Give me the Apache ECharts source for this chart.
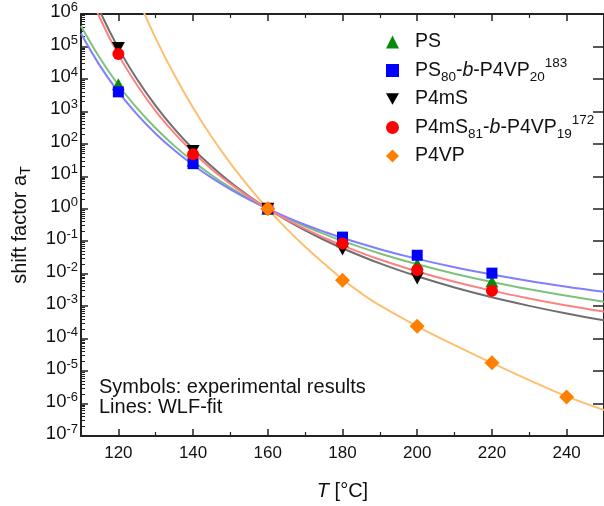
<!DOCTYPE html>
<html><head><meta charset="utf-8">
<script src="https://cdn.jsdelivr.net/npm/echarts@6/dist/echarts.min.js"></script>
<style>html,body{margin:0;padding:0;background:#fff}#c{width:604px;height:506px}</style>
</head><body><div id="c"></div>
<script>
// ---------- tick labels ----------
const xTicks = [120, 140, 160, 180, 200, 220, 240];
const xMinorTicks = [130, 150, 170, 190, 210, 230, 250];
const yTicks = [1e-7, 1e-6, 1e-5, 1e-4, 1e-3, 1e-2, 1e-1, 1e0, 1e1, 1e2, 1e3, 1e4, 1e5, 1e6];
const yMinorMult = [2, 3, 4, 5, 6, 7, 8, 9];

// ---------- series names ----------
const names = ['PS', 'PS80-b-P4VP20 183', 'P4mS', 'P4mS81-b-P4VP19 172', 'P4VP'];

// ---------- experimental shift factors ----------
const T_PS = [120, 140, 160, 180, 200, 220];
const aT_PS = [6.8e3, 30, 1, 0.10, 0.0200, 0.0057];
const T_PSb = [120, 140, 160, 180, 200, 220];
const aT_PSb = [4.0e3, 24.5, 1, 0.134, 0.037, 0.0104];
const T_P4mS = [120, 140, 160, 180, 200];
const aT_P4mS = [9.0e4, 60, 1, 0.056, 0.0071];
const T_P4mSb = [120, 140, 160, 180, 200, 220];
const aT_P4mSb = [5.9e4, 48, 1, 0.085, 0.0129, 0.0030];
const T_P4VP = [160, 180, 200, 220, 240];
const aT_P4VP = [1, 0.0063, 2.4e-4, 1.8e-5, 1.6e-6];

// ---------- WLF-fit curves ----------
const T_fit = [110, 115, 120, 125, 130, 135, 140, 145, 150, 155, 160, 165, 170, 175, 180, 190, 200, 210, 220, 230, 240, 250];
const fit_PS = [4.3e5, 4.5e4, 6.5e3, 1.26e3, 302, 86.6, 28.8, 10.8, 4.5, 2.04, 1, 0.522, 0.289, 0.168, 0.102, 0.0419, 0.0195, 0.010, 0.00556, 0.00331, 0.00208, 0.00137];
const fit_PSb = [2.5e5, 2.62e4, 3.98e3, 809, 206, 63.1, 22.4, 8.97, 3.98, 1.92, 1, 0.553, 0.323, 0.198, 0.126, 0.0568, 0.0286, 0.0158, 0.00944, 0.00597, 0.00398, 0.00277];
const fit_P4mS = [3.0e7, 1.26e6, 8.9e4, 9.8e3, 1.48e3, 288, 69, 20, 6.5, 2.43, 1, 0.448, 0.216, 0.111, 0.0607, 0.0207, 0.0083, 0.00375, 0.00187, 0.00102, 5.93e-4, 3.66e-4];
const fit_P4mSb = [1.86e7, 7.8e5, 5.6e4, 6.5e3, 1.02e3, 214, 55, 16.6, 5.85, 2.30, 1, 0.472, 0.239, 0.129, 0.0736, 0.0273, 0.01175, 0.00568, 0.00301, 0.00173, 0.00105, 6.8e-4];
const T_fitVP = [122, 125, 130, 135, 140, 145, 150, 155, 160, 165, 170, 175, 180, 185, 190, 200, 210, 220, 230, 240, 250];
const fit_P4VP = [2.45e7, 3.39e6, 1.78e5, 1.32e4, 1.29e3, 162, 25.1, 4.68, 1, 0.245, 0.0676, 0.0209, 0.00676, 0.00251, 0.00105, 2.4e-4, 6.3e-5, 1.78e-5, 5.25e-6, 1.66e-6, 6.3e-7];

// ---------- build ----------
const FONT = '"Liberation Sans", Arial, sans-serif';
const zip = (xs, ys) => xs.map((x, i) => [x, ys[i]]);
const yMinorTicks = [];
yTicks.slice(0, -1).forEach(d => yMinorMult.forEach(m => yMinorTicks.push(m * d)));

const markerColors = ['#0a8a0a', '#0000ff', '#000000', '#ff0000', '#ff8000'];
const lineColors = ['#7cc27c', '#7f7fff', '#6f6f6f', '#ff8080', '#ffbe70'];
const symbols = ['triangle', 'rect', 'path://M0,0 L10,0 L5,9 Z', 'circle', 'diamond'];
const symbolSizes = [[13, 12], [11, 11], [13, 12], [12, 12], [15, 15]];
const expData = [zip(T_PS, aT_PS), zip(T_PSb, aT_PSb), zip(T_P4mS, aT_P4mS), zip(T_P4mSb, aT_P4mSb), zip(T_P4VP, aT_P4VP)];
const fitData = [zip(T_fit, fit_PS), zip(T_fit, fit_PSb), zip(T_fit, fit_P4mS), zip(T_fit, fit_P4mSb), zip(T_fitVP, fit_P4VP)];

const legendRich = {
  'PS': '{m|PS}',
  'PS80-b-P4VP20 183': '{m|PS}{sub|80}{m|-}{i|b}{m|-P4VP}{sub|20}{sup|183}',
  'P4mS': '{m|P4mS}',
  'P4mS81-b-P4VP19 172': '{m|P4mS}{sub|81}{m|-}{i|b}{m|-P4VP}{sub|19}{sup|172}',
  'P4VP': '{m|P4VP}'
};

const series = [];
fitData.forEach((d, i) => series.push({
  type: 'line', name: names[i] + ' fit', data: d, smooth: 0.4, showSymbol: false, silent: true, z: 1,
  lineStyle: { color: lineColors[i], width: 2 }, clip: true
}));
expData.forEach((d, i) => series.push({
  type: 'scatter', name: names[i], data: d, symbol: symbols[i], symbolSize: symbolSizes[i], z: 3,
  itemStyle: { color: markerColors[i], opacity: 1 }, clip: true
}));

const axisLineStyle = { color: '#222', width: 2 };
const baseX = { type: 'value', min: 110, max: 250, splitLine: { show: false } };
const baseY = { type: 'log', logBase: 10, min: 1e-7, max: 1e6, splitLine: { show: false } };

const option = {
  animation: false,
  backgroundColor: '#fff',
  textStyle: { fontFamily: FONT },
  grid: { left: 81, top: 14, right: -6, bottom: 67, containLabel: false },
  xAxis: [
    Object.assign({}, baseX, {
      position: 'bottom',
      name: '{i|T} [°C]', nameLocation: 'middle', nameGap: 45,
      nameTextStyle: { fontSize: 20, color: '#111', fontFamily: FONT, rich: { i: { fontStyle: 'italic', fontSize: 20, fontFamily: FONT } } },
      axisLine: { show: true, lineStyle: axisLineStyle },
      axisTick: { inside: true, length: 7, lineStyle: { color: '#222', width: 1.5 }, customValues: xTicks },
      axisLabel: { fontSize: 17, color: '#111', margin: 9, fontFamily: FONT, customValues: xTicks }
    }),
    Object.assign({}, baseX, {
      position: 'bottom', axisLine: { show: false },
      axisTick: { inside: true, length: 4, lineStyle: { color: '#222', width: 1.2 }, customValues: xMinorTicks },
      axisLabel: { show: false }
    }),
    Object.assign({}, baseX, {
      position: 'top', axisLine: { show: true, lineStyle: axisLineStyle },
      axisTick: { inside: true, length: 7, lineStyle: { color: '#222', width: 1.5 }, customValues: xTicks },
      axisLabel: { show: false }
    }),
    Object.assign({}, baseX, {
      position: 'top', axisLine: { show: false },
      axisTick: { inside: true, length: 4, lineStyle: { color: '#222', width: 1.2 }, customValues: xMinorTicks },
      axisLabel: { show: false }
    })
  ],
  yAxis: [
    Object.assign({}, baseY, {
      position: 'left',
      name: '{m|shift factor a}{sub|T}', nameLocation: 'middle', nameGap: 48, nameRotate: 90,
      nameTextStyle: { fontSize: 20, color: '#111', fontFamily: FONT,
        rich: { m: { fontSize: 20, lineHeight: 26, fontFamily: FONT }, sub: { fontSize: 14, lineHeight: 14, verticalAlign: 'bottom', fontFamily: FONT } } },
      axisLine: { show: true, lineStyle: axisLineStyle },
      axisTick: { inside: true, length: 7, lineStyle: { color: '#222', width: 1.5 }, customValues: yTicks },
      axisLabel: {
        margin: 3, color: '#111', fontFamily: FONT, customValues: yTicks, padding: [0, 0, 4, 0],
        formatter: v => '{b|10}{s|' + Math.round(Math.log10(v)) + '}',
        rich: { b: { fontSize: 18.5, lineHeight: 22, fontFamily: FONT, color: '#111' },
                s: { fontSize: 13, lineHeight: 12, verticalAlign: 'top', fontFamily: FONT, color: '#111' } }
      }
    }),
    Object.assign({}, baseY, {
      position: 'left', axisLine: { show: false },
      axisTick: { inside: true, length: 4, lineStyle: { color: '#222', width: 1 }, customValues: yMinorTicks },
      axisLabel: { show: false }
    }),
    Object.assign({}, baseY, {
      position: 'right', axisLine: { show: true, lineStyle: axisLineStyle },
      axisTick: { inside: true, length: 11, lineStyle: { color: '#222', width: 1.5 }, customValues: yTicks },
      axisLabel: { show: false }
    })
  ],
  legend: {
    data: names, orient: 'vertical', left: 381, top: 23, itemGap: 0.5,
    itemWidth: 13, itemHeight: 13,
    formatter: n => legendRich[n],
    textStyle: {
      fontFamily: FONT, fontSize: 19.5, color: '#111', lineHeight: 28, padding: [0, 0, 0, 11],
      rich: {
        m: { fontSize: 19.5, lineHeight: 28, fontFamily: FONT, color: '#111' },
        i: { fontSize: 19.5, lineHeight: 28, fontStyle: 'italic', fontFamily: FONT, color: '#111' },
        sub: { fontSize: 13.5, lineHeight: 12, verticalAlign: 'bottom', fontFamily: FONT, color: '#111' },
        sup: { fontSize: 13.5, lineHeight: 12, verticalAlign: 'top', fontFamily: FONT, color: '#111' }
      }
    }
  },
  graphic: [
    { type: 'text', left: 99, top: 377, style: { text: 'Symbols: experimental results', font: '20px ' + FONT, fill: '#111' } },
    { type: 'text', left: 99, top: 397, style: { text: 'Lines: WLF-fit', font: '20px ' + FONT, fill: '#111' } }
  ],
  series: series
};

const chart = echarts.init(document.getElementById('c'), null, { renderer: 'canvas' });
chart.setOption(option);
</script>
</body></html>
